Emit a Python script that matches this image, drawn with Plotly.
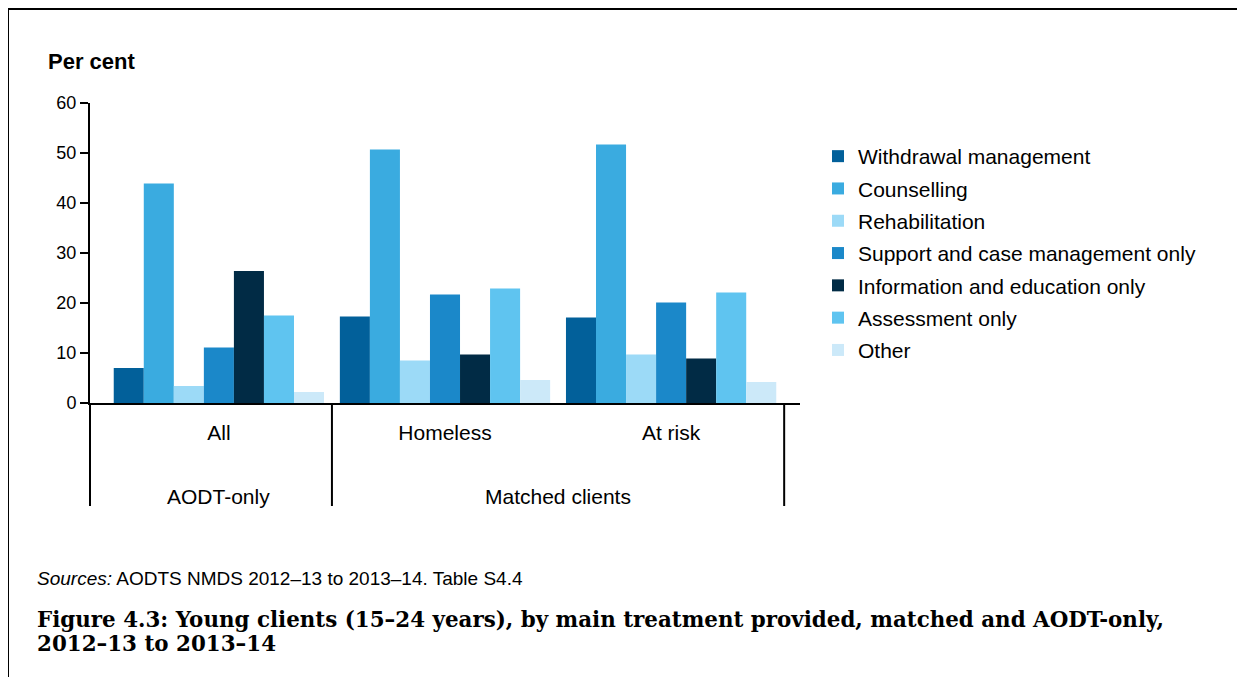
import plotly.graph_objects as go

categories = ["All", "Homeless", "At risk"]
groups = ["AODT-only", "Matched clients"]
series_names = [
    "Withdrawal management",
    "Counselling",
    "Rehabilitation",
    "Support and case management only",
    "Information and education only",
    "Assessment only",
    "Other",
]
withdrawal = [7.0, 17.3, 17.1]
counselling = [43.9, 50.7, 51.7]
rehabilitation = [3.4, 8.5, 9.7]
support = [11.1, 21.7, 20.1]
information = [26.4, 9.7, 8.9]
assessment = [17.5, 22.9, 22.1]
other = [2.2, 4.6, 4.2]
series_values = [withdrawal, counselling, rehabilitation, support, information, assessment, other]
colors = ["#02609a", "#3aabe0", "#9cdaf7", "#1b88c9", "#012b45", "#5fc4f0", "#cce9f9"]
y_ticks = [0, 10, 20, 30, 40, 50, 60]

# page offset of the figure in the browser (body margin)
OFF = 8
L, R, T, B = 90 - OFF, 800 - OFF, 103 - OFF, 403 - OFF
W, H = 1245 - OFF, 677 - OFF
def px(x):
    return (x - OFF - L) / (R - L)
def py(y):
    return (B - (y - OFF)) / (B - T)

fig = go.Figure()
for i, (name, vals, col) in enumerate(zip(series_names, series_values, colors)):
    fig.add_trace(go.Bar(
        x=categories, y=vals, name=name,
        marker=dict(color=col, line=dict(width=0)),
        legendgroup=f"g{i}",
    ))

fig.update_layout(
    width=W, height=H,
    margin=dict(l=L, r=W - R, t=T, b=H - B, pad=0),
    paper_bgcolor="white", plot_bgcolor="white",
    barmode="group", bargap=0.07, bargroupgap=0,
    font=dict(family="Liberation Sans, Arial", color="black"),
    legend=dict(
        x=px(818), xanchor="left", y=py(136), yanchor="top",
        font=dict(size=21, color="black"),
        tracegroupgap=2, bgcolor="rgba(0,0,0,0)",
    ),
    xaxis=dict(
        range=[-0.57, 2.57], showline=True, linecolor="black", linewidth=2,
        ticks="", showgrid=False, tickfont=dict(size=21, color="black"),
        ticklabelstandoff=10,
    ),
    yaxis=dict(
        range=[0, 60], tickvals=y_ticks, showline=True, linecolor="black",
        linewidth=2, ticks="outside", ticklen=8, tickwidth=2, tickcolor="black",
        showgrid=False, zeroline=False, tickfont=dict(size=18, color="black"),
    ),
)

shapes = [
    dict(type="line", xref="paper", yref="paper", x0=0, x1=0, y0=0, y1=py(506),
         line=dict(color="black", width=2)),
    dict(type="line", xref="x", yref="paper", x0=0.5, x1=0.5, y0=0, y1=py(506),
         line=dict(color="black", width=2)),
    dict(type="line", xref="x", yref="paper", x0=2.5, x1=2.5, y0=0, y1=py(506),
         line=dict(color="black", width=2)),
    dict(type="rect", xref="paper", yref="paper", x0=px(8), x1=px(1243),
         y0=py(700), y1=py(9), line=dict(color="black", width=2)),
]
fig.update_layout(shapes=shapes)

annotations = [
    dict(text="<b>Per cent</b>", xref="paper", yref="paper", x=px(46), y=py(62),
         xanchor="left", yanchor="middle", showarrow=False, font=dict(size=22)),
    dict(text=groups[0], xref="x", yref="paper", x=0, y=py(496),
         xanchor="center", yanchor="middle", showarrow=False, font=dict(size=21)),
    dict(text=groups[1], xref="x", yref="paper", x=1.5, y=py(496),
         xanchor="center", yanchor="middle", showarrow=False, font=dict(size=21)),
    dict(text="<i>Sources:</i> AODTS NMDS 2012–13 to 2013–14. Table S4.4", xref="paper",
         yref="paper", x=px(35), y=py(578), xanchor="left", yanchor="middle",
         showarrow=False, font=dict(size=19)),
    dict(text="<b>Figure 4.3: Young clients (15–24 years), by main treatment provided, matched and AODT-only,</b>",
         xref="paper", yref="paper", x=px(35), y=py(619), xanchor="left", yanchor="middle",
         showarrow=False, font=dict(size=21.4, family="DejaVu Serif")),
    dict(text="<b>2012–13 to 2013–14</b>",
         xref="paper", yref="paper", x=px(35), y=py(643), xanchor="left", yanchor="middle",
         showarrow=False, font=dict(size=21.4, family="DejaVu Serif")),
]
fig.update_layout(annotations=annotations)

fig.write_html("out.html")
